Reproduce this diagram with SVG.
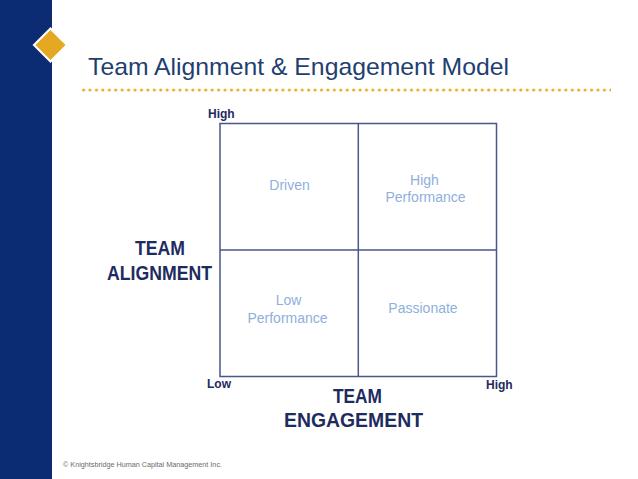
<svg xmlns="http://www.w3.org/2000/svg" width="638" height="479" viewBox="0 0 638 479">
  <style>
    .axis { font-family: "Liberation Sans", Arial, sans-serif; font-weight: bold; fill: #1e2b5e; }
    .quad { font-family: "Liberation Sans", Arial, sans-serif; font-size: 14px; fill: #8fb0dc; text-anchor: middle; }
    .grid { fill: none; stroke: #4a5589; stroke-width: 1.5; }
  </style>
  <defs>
    <pattern id="dots" x="82" y="86" width="6.43" height="8" patternUnits="userSpaceOnUse">
      <circle cx="1.6" cy="4" r="1.6" fill="#e8b02a"/>
    </pattern>
  </defs>
  <rect width="638" height="479" fill="#ffffff"/>
  <g id="sidebar">
    <rect x="0" y="0" width="52" height="479" fill="#0b2b72"/>
    <polygon points="50.5,27 68.5,45 50.5,63 32.5,45" fill="#ffffff"/>
    <polygon points="50.5,30 65.5,45 50.5,60 35.5,45" fill="#e5a823"/>
  </g>
  <g id="title">
    <text x="88" y="75" font-family="'Liberation Sans', Arial, sans-serif" font-size="24" fill="#1f3f70" textLength="421" lengthAdjust="spacingAndGlyphs">Team Alignment &amp; Engagement Model</text>
    <rect x="80" y="86" width="531" height="8" fill="url(#dots)"/>
  </g>
  <g id="connectors">
    <rect class="grid" x="220" y="123.5" width="276.5" height="253"/>
    <line class="grid" x1="358.3" y1="123.5" x2="358.3" y2="376.5"/>
    <line class="grid" x1="220" y1="250" x2="496.5" y2="250"/>
  </g>
  <g id="quad-driven">
    <text class="quad" x="289.5" y="190">Driven</text>
  </g>
  <g id="quad-high-performance">
    <text class="quad" x="424.5" y="185">High</text>
    <text class="quad" x="425.5" y="202">Performance</text>
  </g>
  <g id="quad-low-performance">
    <text class="quad" x="288.5" y="305">Low</text>
    <text class="quad" x="287.5" y="323">Performance</text>
  </g>
  <g id="quad-passionate">
    <text class="quad" x="423" y="313">Passionate</text>
  </g>
  <g id="axis-alignment">
    <text class="axis" x="208" y="118" font-size="12">High</text>
    <text class="axis" x="160" y="255" font-size="20" text-anchor="middle" textLength="50" lengthAdjust="spacingAndGlyphs">TEAM</text>
    <text class="axis" x="159.5" y="280" font-size="20" text-anchor="middle" textLength="105" lengthAdjust="spacingAndGlyphs">ALIGNMENT</text>
  </g>
  <g id="axis-engagement">
    <text class="axis" x="207" y="388" font-size="12">Low</text>
    <text class="axis" x="486" y="389" font-size="12">High</text>
    <text class="axis" x="357.5" y="403" font-size="20" text-anchor="middle" textLength="49" lengthAdjust="spacingAndGlyphs">TEAM</text>
    <text class="axis" x="353.5" y="427" font-size="20" text-anchor="middle" textLength="139" lengthAdjust="spacingAndGlyphs">ENGAGEMENT</text>
  </g>
  <g id="footer">
    <text x="63" y="467" font-family="'Liberation Sans', Arial, sans-serif" font-size="7.5" fill="#6b6b6b" textLength="159" lengthAdjust="spacingAndGlyphs">© Knightsbridge Human Capital Management Inc.</text>
  </g>
</svg>
